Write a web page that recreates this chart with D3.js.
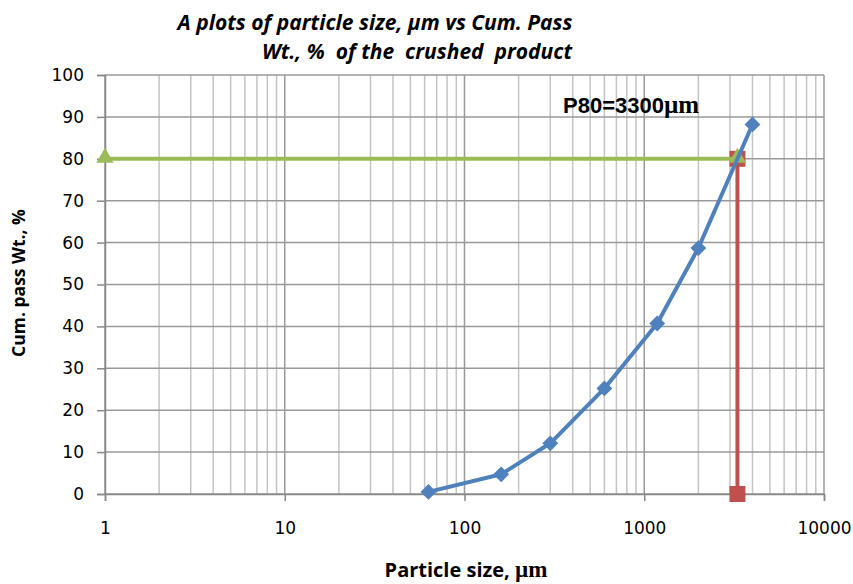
<!DOCTYPE html>
<html>
<head>
<meta charset="utf-8">
<script src="https://cdn.jsdelivr.net/npm/d3@7"></script>
<style>
  body { margin: 0; background: #fff; }
  .tick text { font-family: "DejaVu Sans", Verdana, sans-serif; font-size: 17px; fill: #000; }
</style>
</head>
<body>
<div id="chart"></div>
<script>
// particle size (um) vs cumulative passing (%)
var sizes = [63, 160, 300, 600, 1180, 2000, 4000];
var cumPass = [0.5, 4.7, 12.1, 25.2, 40.7, 58.7, 88.2];
// P80 marker lines
var p80Size = 3300;
var p80Vertical = [[p80Size, 0], [p80Size, 80]];
var p80Horizontal = [[1, 80], [p80Size, 80]];
var xTicks = [1, 10, 100, 1000, 10000];
var yTicks = [0, 10, 20, 30, 40, 50, 60, 70, 80, 90, 100];

var W = 853, H = 584;
var margin = {top: 75, right: 29, bottom: 90, left: 105},
    width = W - margin.left - margin.right,
    height = H - margin.top - margin.bottom;

var svg = d3.select('#chart').append('svg')
    .attr('width', W)
    .attr('height', H);

var g = svg.append('g')
    .attr('transform', 'translate(' + margin.left + ',' + margin.top + ')');

var xScale = d3.scaleLog().domain([1, 10000]).range([0, width]);
var yScale = d3.scaleLinear().domain([0, 100]).range([height, 0]);

// minor vertical grid
var minor = [];
for (var d = 1; d < 10000; d *= 10) {
  for (var k = 2; k <= 9; k++) minor.push(d * k);
}
g.selectAll('.minor').data(minor).enter().append('line')
    .attr('x1', function(d) { return xScale(d); })
    .attr('x2', function(d) { return xScale(d); })
    .attr('y1', 0).attr('y2', height)
    .attr('stroke', '#c4c4c4').attr('stroke-width', 1.5);

// horizontal grid
g.selectAll('.hgrid').data(yTicks).enter().append('line')
    .attr('x1', 0).attr('x2', width)
    .attr('y1', function(d) { return yScale(d); })
    .attr('y2', function(d) { return yScale(d); })
    .attr('stroke', '#999').attr('stroke-width', 1.5);

// major vertical grid
g.selectAll('.major').data(xTicks).enter().append('line')
    .attr('x1', function(d) { return xScale(d); })
    .attr('x2', function(d) { return xScale(d); })
    .attr('y1', 0).attr('y2', height)
    .attr('stroke', '#999').attr('stroke-width', 1.5);

var xAxis = d3.axisBottom(xScale)
    .tickValues(xTicks)
    .tickFormat(d3.format('d'))
    .tickSize(7)
    .tickPadding(21);

var yAxis = d3.axisLeft(yScale)
    .tickValues(yTicks)
    .tickSize(8)
    .tickPadding(13);

g.append('g')
    .attr('transform', 'translate(0,' + height + ')')
    .call(xAxis)
    .call(function(a) {
      a.select('.domain').attr('stroke', '#888').attr('stroke-width', 1.5);
      a.selectAll('.tick line').attr('stroke', '#888').attr('stroke-width', 1.5);
    });

g.append('g')
    .call(yAxis)
    .call(function(a) {
      a.select('.domain').attr('stroke', '#888').attr('stroke-width', 1.5);
      a.selectAll('.tick line').attr('stroke', '#888').attr('stroke-width', 1.5);
    });

var lineFunction = d3.line()
    .x(function(d) { return xScale(d[0]); })
    .y(function(d) { return yScale(d[1]); });

var curve = sizes.map(function(s, i) { return [s, cumPass[i]]; });

// red P80 vertical
g.append('path')
    .attr('d', lineFunction(p80Vertical))
    .attr('fill', 'none')
    .attr('stroke', '#c0504d')
    .attr('stroke-width', 4);
g.selectAll('.sq').data(p80Vertical).enter().append('rect')
    .attr('x', function(d) { return xScale(d[0]) - 8; })
    .attr('y', function(d) { return yScale(d[1]) - 8; })
    .attr('width', 16).attr('height', 16)
    .attr('fill', '#c0504d');

// green horizontal
g.append('path')
    .attr('d', lineFunction(p80Horizontal))
    .attr('fill', 'none')
    .attr('stroke', '#9bbb59')
    .attr('stroke-width', 4);
g.selectAll('.tri').data(p80Horizontal).enter().append('path')
    .attr('d', d3.symbol().type(d3.symbolTriangle).size(130))
    .attr('transform', function(d) { return 'translate(' + xScale(d[0]) + ',' + (yScale(d[1]) - 1) + ')'; })
    .attr('fill', '#9bbb59');

// blue curve
g.append('path')
    .attr('d', lineFunction(curve))
    .attr('fill', 'none')
    .attr('stroke', '#4f81bd')
    .attr('stroke-width', 4)
    .attr('stroke-linejoin', 'round');
g.selectAll('.dia').data(curve).enter().append('path')
    .attr('d', d3.symbol().type(d3.symbolDiamond2).size(160))
    .attr('transform', function(d) { return 'translate(' + xScale(d[0]) + ',' + yScale(d[1]) + ')'; })
    .attr('fill', '#4f81bd');

// P80 label
var lab = svg.append('text')
    .attr('x', 563).attr('y', 113)
    .style('font-family', '"Liberation Sans", Arial, sans-serif')
    .style('font-weight', 'bold')
    .style('font-size', '22px');
lab.append('tspan').text('P80=3300');
lab.append('tspan').style('font-family', '"Liberation Serif", "Times New Roman", serif').style('font-size', '25px').text('\u00b5m');

// title
var title = svg.append('text')
    .attr('text-anchor', 'middle')
    .style('font-family', '"Open Sans", Calibri, sans-serif')
    .style('font-style', 'italic')
    .style('font-weight', 'bold')
    .style('font-size', '21px')
    .style('white-space', 'pre');
title.append('tspan').attr('x', 375).attr('y', 30).text('A plots of particle size, \u00b5m vs Cum. Pass');
title.append('tspan').attr('x', 417).attr('y', 59).text('Wt., %  of the  crushed  product');

// axis titles
var xt = svg.append('text')
    .attr('x', 466).attr('y', 577)
    .attr('text-anchor', 'middle')
    .style('font-family', '"Open Sans", Calibri, sans-serif')
    .style('font-weight', 'bold')
    .style('font-size', '20px');
xt.append('tspan').text('Particle size, ');
xt.append('tspan').style('font-family', '"Liberation Serif", serif').style('font-size', '23px').text('\u00b5m');

svg.append('text')
    .attr('transform', 'translate(25,283) rotate(-90)')
    .attr('text-anchor', 'middle')
    .style('font-family', '"Open Sans", Calibri, sans-serif')
    .style('font-weight', 'bold')
    .style('font-size', '17.5px')
    .text('Cum. pass Wt., %');
</script>
</body>
</html>
